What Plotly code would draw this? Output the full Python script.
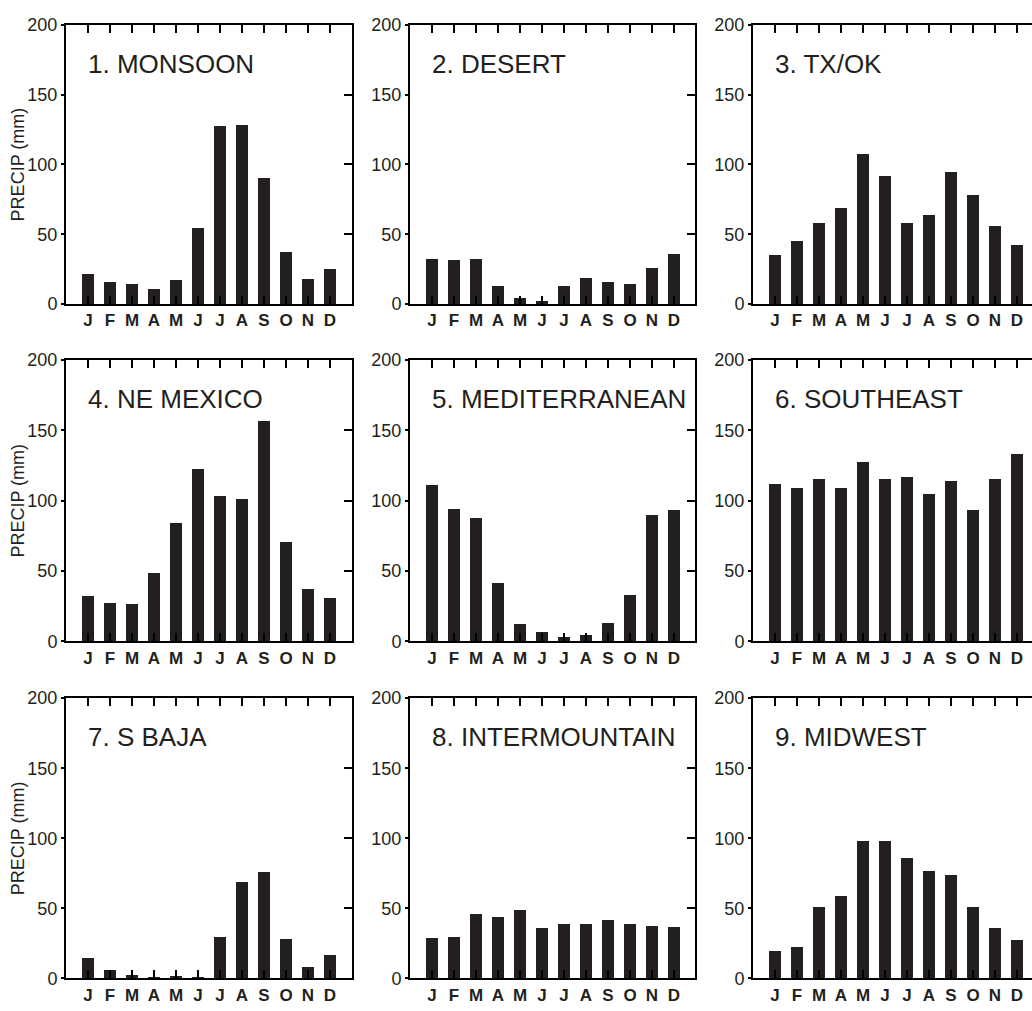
import plotly.graph_objects as go

months = ["J", "F", "M", "A", "M", "J", "J", "A", "S", "O", "N", "D"]

titles = ["1. MONSOON", "2. DESERT", "3. TX/OK",
          "4. NE MEXICO", "5. MEDITERRANEAN", "6. SOUTHEAST",
          "7. S BAJA", "8. INTERMOUNTAIN", "9. MIDWEST"]

monsoon = [21.5, 16.1, 14.5, 11.0, 17.1, 55.0, 127.7, 128.2, 90.8, 37.4, 18.2, 25.0]
desert = [32.7, 31.8, 32.3, 13.1, 4.4, 2.3, 13.3, 18.7, 15.7, 14.3, 25.7, 36.3]
tx_ok = [35.1, 45.4, 58.5, 69.0, 107.6, 91.9, 58.2, 63.9, 95.0, 78.1, 56.1, 42.6]
ne_mexico = [32.5, 27.6, 26.2, 48.5, 83.8, 122.7, 103.2, 101.2, 156.4, 70.5, 36.9, 30.6]
mediterranean = [110.9, 94.2, 87.5, 41.2, 12.5, 6.3, 2.8, 4.4, 12.7, 32.6, 89.6, 93.1]
southeast = [111.5, 108.7, 115.7, 108.7, 127.5, 115.7, 117.0, 105.0, 114.0, 93.4, 115.7, 133.0]
s_baja = [14.7, 6.3, 2.6, 0.5, 1.6, 1.2, 29.8, 68.8, 75.8, 28.4, 8.4, 16.7]
intermountain = [29.1, 29.5, 46.0, 44.0, 48.8, 35.6, 38.8, 38.8, 41.9, 39.1, 37.4, 36.7]
midwest = [19.3, 22.3, 50.9, 58.8, 97.9, 97.9, 85.6, 76.7, 73.7, 50.9, 36.0, 27.2]

series = [monsoon, desert, tx_ok, ne_mexico, mediterranean, southeast,
          s_baja, intermountain, midwest]

y_ticks = [0, 50, 100, 150, 200]
y_title = "PRECIP (mm)"

W, H = 1032, 1011
col_px = [(66, 352), (410, 695), (753, 1032)]
row_px = [(15, 300), (357, 644), (702, 988)]
PX_PER_MONTH = 22.0

INK = "#231f20"
FONT = "Liberation Sans, Arial, sans-serif"

fig = go.Figure()
layout = dict(
    width=W, height=H, autosize=False,
    margin=dict(l=0, r=0, t=0, b=0, pad=0),
    paper_bgcolor="white", plot_bgcolor="white",
    showlegend=False, bargap=0,
    font=dict(family=FONT, color=INK),
)
annotations = []

for i in range(9):
    r, c = divmod(i, 3)
    n = i + 1
    xa = "x" if n == 1 else f"x{n}"
    ya = "y" if n == 1 else f"y{n}"
    xkey = "xaxis" if n == 1 else f"xaxis{n}"
    ykey = "yaxis" if n == 1 else f"yaxis{n}"
    x0, x1 = col_px[c]
    t0, b0 = row_px[r]
    xmax = -1 + (x1 - x0) / PX_PER_MONTH

    fig.add_trace(go.Bar(
        x=list(range(12)), y=series[i], xaxis=xa, yaxis=ya,
        width=0.57, marker=dict(color=INK, line=dict(width=0)),
        hoverinfo="skip",
    ))

    layout[xkey] = dict(
        domain=[x0 / W, x1 / W], anchor=ya, range=[-1, xmax],
        tickmode="array", tickvals=list(range(12)), ticktext=months,
        ticks="inside", ticklen=8, tickwidth=2, tickcolor="black",
        mirror="ticks", showline=True, linewidth=2, linecolor="black",
        showgrid=False, zeroline=False, fixedrange=True,
        tickfont=dict(family=FONT, size=17, color=INK, weight="bold"),
    )
    layout[ykey] = dict(
        domain=[1 - b0 / H, 1 - t0 / H], anchor=xa, range=[0, 200],
        tickmode="array", tickvals=y_ticks,
        ticks="outside", ticklen=3, tickwidth=2, tickcolor="black",
        mirror=(c < 2), showline=True, linewidth=2, linecolor="black",
        showgrid=False, zeroline=False, fixedrange=True,
        tickfont=dict(family=FONT, size=18, color=INK),
    )

    if c < 2:
        n2 = n + 10
        ya2 = f"y{n2}"
        fig.add_trace(go.Scatter(x=[], y=[], xaxis=xa, yaxis=ya2,
                                 mode="markers", hoverinfo="skip"))
        layout[f"yaxis{n2}"] = dict(
            overlaying=ya, side="right", anchor=xa, range=[0, 200],
            tickmode="array", tickvals=[50, 100, 150],
            ticks="inside", ticklen=8, tickwidth=2, tickcolor="black",
            showticklabels=False, showline=False, showgrid=False,
            zeroline=False, fixedrange=True,
        )

    annotations.append(dict(
        text=titles[i], xref=f"{xa} domain", yref=f"{ya} domain",
        x=20 / (x1 - x0), y=1 - 40 / (b0 - t0),
        xanchor="left", yanchor="middle", showarrow=False,
        font=dict(family=FONT, size=26, color=INK),
    ))
    if c == 0:
        annotations.append(dict(
            text=y_title, xref=f"{xa} domain", yref=f"{ya} domain",
            x=(18 - x0) / (x1 - x0), y=0.5, textangle=-90,
            xanchor="center", yanchor="middle", showarrow=False,
            font=dict(family=FONT, size=18, color=INK),
        ))

layout["annotations"] = annotations
fig.update_layout(**layout)
fig.write_html(
    "out.html",
    config={"displayModeBar": False},
    post_script="document.body.style.margin='0px';document.body.style.overflow='hidden';",
)
